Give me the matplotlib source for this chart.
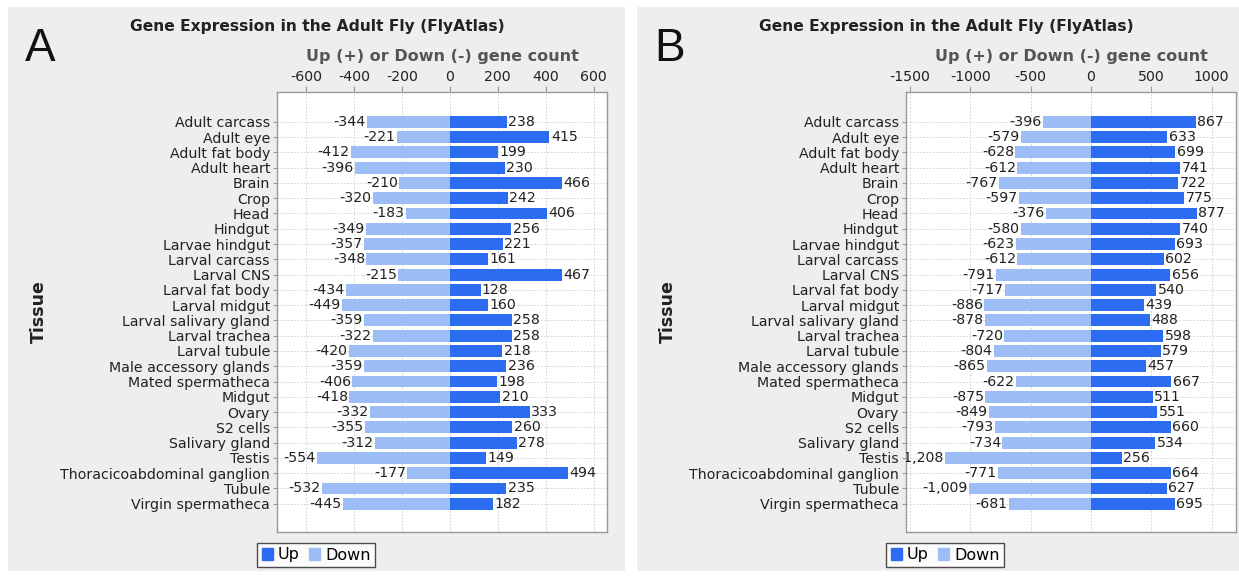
import matplotlib
matplotlib.use("Agg")
import matplotlib.pyplot as plt
from matplotlib.patches import Rectangle, Patch

W, H = 1239, 576

tissues = ["Adult carcass", "Adult eye", "Adult fat body", "Adult heart", "Brain",
           "Crop", "Head", "Hindgut", "Larvae hindgut", "Larval carcass",
           "Larval CNS", "Larval fat body", "Larval midgut", "Larval salivary gland",
           "Larval trachea", "Larval tubule", "Male accessory glands",
           "Mated spermatheca", "Midgut", "Ovary", "S2 cells", "Salivary gland",
           "Testis", "Thoracicoabdominal ganglion", "Tubule", "Virgin spermatheca"]

up_a = [238, 415, 199, 230, 466, 242, 406, 256, 221, 161, 467, 128, 160,
        258, 258, 218, 236, 198, 210, 333, 260, 278, 149, 494, 235, 182]
down_a = [-344, -221, -412, -396, -210, -320, -183, -349, -357, -348, -215, -434, -449,
          -359, -322, -420, -359, -406, -418, -332, -355, -312, -554, -177, -532, -445]

up_b = [867, 633, 699, 741, 722, 775, 877, 740, 693, 602, 656, 540, 439,
        488, 598, 579, 457, 667, 511, 551, 660, 534, 256, 664, 627, 695]
down_b = [-396, -579, -628, -612, -767, -597, -376, -580, -623, -612, -791, -717, -886,
          -878, -720, -804, -865, -622, -875, -849, -793, -734, -1208, -771, -1009, -681]

ticks_a = [-600, -400, -200, 0, 200, 400, 600]
ticks_b = [-1500, -1000, -500, 0, 500, 1000]

UP = "#2c6cf0"
DOWN = "#9dbdf7"
BG = "#eeeeee"

title = "Gene Expression in the Adult Fly (FlyAtlas)"
xlab = "Up (+) or Down (-) gene count"

fig = plt.figure(figsize=(W / 100, H / 100), dpi=100)
fig.patch.set_facecolor("white")


def px(x0, y0, x1, y1):
    # pixel box (top-left origin) -> figure fraction rect
    return [x0 / W, 1 - y1 / H, (x1 - x0) / W, (y1 - y0) / H]


def fmt(v):
    return "{:,}".format(v)


def panel(box, plotbox, up, down, xlim, ticks, letter):
    bx = px(*box)
    fig.patches.append(Rectangle((bx[0], bx[1]), bx[2], bx[3], transform=fig.transFigure,
                                 facecolor=BG, edgecolor="none", zorder=-5))
    ax = fig.add_axes(px(*plotbox))
    ypos = list(range(len(tissues)))
    ax.barh(ypos, up, height=0.78, color=UP, zorder=2)
    ax.barh(ypos, down, height=0.78, color=DOWN, zorder=2)
    for y, u, d in zip(ypos, up, down):
        ax.annotate(fmt(u), (u, y), xytext=(1, 0), textcoords="offset points",
                    ha="left", va="center", fontsize=10.2, color="#222222", clip_on=True)
        ax.annotate(fmt(d), (d, y), xytext=(-1, 0), textcoords="offset points",
                    ha="right", va="center", fontsize=10.2, color="#222222", clip_on=True)
    ax.set_xlim(*xlim)
    ax.set_ylim(len(tissues) + 0.85, -1.95)
    ax.set_yticks(ypos)
    ax.set_yticklabels(tissues, fontsize=10.2, color="#222222")
    ax.set_xticks(ticks)
    ax.set_xticklabels([str(t) for t in ticks], fontsize=10.2, color="#222222")
    ax.xaxis.tick_top()
    ax.tick_params(axis="x", length=4, color="#999999", pad=2)
    ax.tick_params(axis="y", length=3, color="#999999", pad=2)
    ax.grid(True, linestyle=(0, (2, 2)), color="#cccccc", linewidth=0.6)
    ax.set_axisbelow(True)
    for s in ax.spines.values():
        s.set_color("#999999")
        s.set_linewidth(1)
    x0 = box[0]
    fig.text((plotbox[0] + plotbox[2]) / 2 / W, 1 - 57 / H, xlab, ha="center", va="center",
             fontsize=11.5, fontweight="bold", color="#555555")
    fig.text((x0 + 309) / W, 1 - 27 / H, title, ha="center", va="center",
             fontsize=11.2, fontweight="bold", color="#222222")
    fig.text((x0 + 31) / W, 1 - 312 / H, "Tissue", rotation=90, ha="center", va="center",
             fontsize=12.5, fontweight="bold", color="#222222")
    fig.text((x0 + 17) / W, 1 - 61 / H, letter, ha="left", va="baseline",
             fontsize=33, family="Liberation Sans", color="#111111")
    handles = [Patch(color=UP, label="Up"), Patch(color=DOWN, label="Down")]
    leg = fig.legend(handles=handles, loc="center", ncol=2,
                     bbox_to_anchor=((x0 + 308) / W, 1 - 555 / H),
                     fontsize=11.5, frameon=True, fancybox=False, edgecolor="#222222",
                     handlelength=0.7, handleheight=0.7, handletextpad=0.3,
                     columnspacing=0.6, borderpad=0.3)
    leg.get_frame().set_linewidth(1)
    return ax


panel((8, 7, 625, 571), (277, 92, 607, 532), up_a, down_a, (-720, 655), ticks_a, "A")
panel((637, 7, 1239, 571), (906, 92, 1236, 532), up_b, down_b, (-1534, 1202), ticks_b, "B")

fig.savefig("out.png", dpi=100, facecolor=fig.get_facecolor())
